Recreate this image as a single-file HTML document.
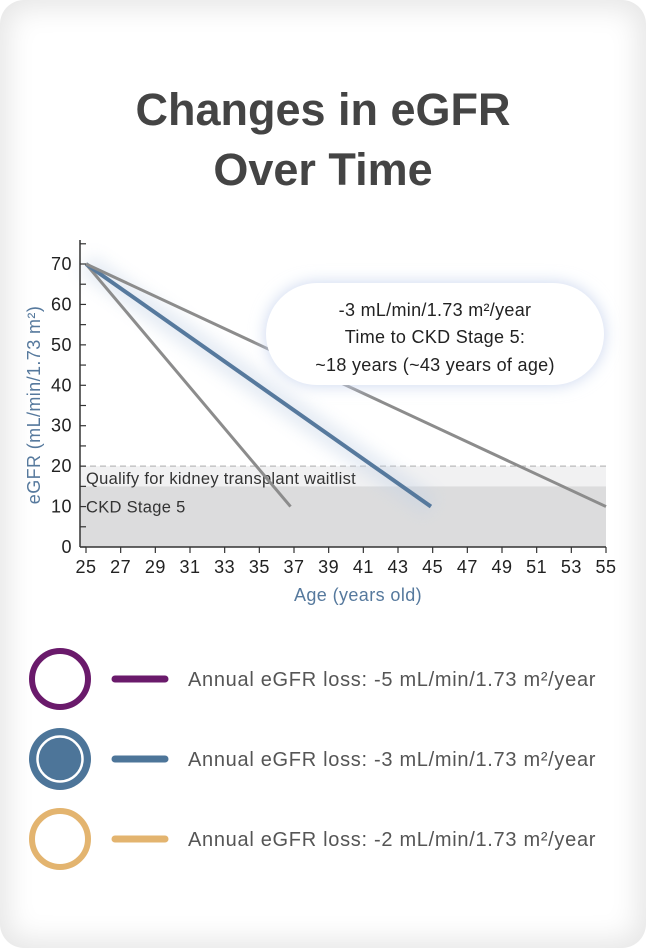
<!DOCTYPE html>
<html><head><meta charset="utf-8"><style>
html,body{margin:0;padding:0;width:646px;height:948px;overflow:hidden;background:#fff;font-family:"Liberation Sans",sans-serif}
#card{position:absolute;left:0;top:0;width:646px;height:948px;border-radius:24px;background:#fff;box-shadow:inset 0 0 28px 8px rgba(0,0,0,0.10)}
#title{position:absolute;left:0;top:80px;width:646px;text-align:center;font-size:45px;font-weight:bold;color:#444;line-height:60px}
svg{position:absolute;left:0;top:0}
</style></head><body>
<div id="card"></div>
<div id="title">Changes in eGFR<br>Over Time</div>
<svg id="chart" width="646" height="948">
<defs>
<filter id="glow" x="-30%" y="-60%" width="160%" height="220%"><feGaussianBlur stdDeviation="8"/></filter>
</defs>
<g id="plot"></g>
<g id="legend"></g>
</svg>
<script>
const xTicks=[25,27,29,31,33,35,37,39,41,43,45,47,49,51,53,55];
const yTicks=[0,10,20,30,40,50,60,70];
const seriesNames=['-5','-3','-2'];
const startAge=[25,25,25];
const startVal=[70,70,70];
const endAge=[36.8,44.9,55];
const endVal=[10,10,10];
const seriesColors=['#8c8c8c','#56799d','#8c8c8c'];
const seriesWidths=[3,4,3];
const waitlistBand=[15,20];
const stage5Band=[0,15];
const legendLabels=['Annual eGFR loss: -5 mL/min/1.73 m²/year','Annual eGFR loss: -3 mL/min/1.73 m²/year','Annual eGFR loss: -2 mL/min/1.73 m²/year'];
const legendColors=['#6a1a6b','#4d7599','#e3b46f'];

const NS='http://www.w3.org/2000/svg';
const X0=86,X1=606,Y0=547,Y1=264;
const x=v=>X0+(v-25)/(55-25)*(X1-X0);
const y=v=>Y0-(v-0)/(70-0)*(Y0-Y1);
const plot=document.getElementById('plot');
const legend=document.getElementById('legend');
function mk(tag,attrs,parent){const e=document.createElementNS(NS,tag);for(const k in attrs)e.setAttribute(k,attrs[k]);parent.appendChild(e);return e;}
const AX=80;
let b=mk('rect',{x:AX,y:y(waitlistBand[1]),width:X1-AX,height:y(waitlistBand[0])-y(waitlistBand[1]),fill:'#f1f1f2'},plot);


b=mk('rect',{x:AX,y:y(stage5Band[1]),width:X1-AX,height:y(stage5Band[0])-y(stage5Band[1]),fill:'#dcdcdd'},plot);


b=mk('line',{x1:AX,x2:X1,y1:y(20),y2:y(20),stroke:'#bbb','stroke-width':1.3,'stroke-dasharray':'6 4'},plot);


let t=mk('text',{x:86,y:y(20)+18,'font-size':16.5,fill:'#333','letter-spacing':0.3},plot);t.textContent='Qualify for kidney transplant waitlist';


t=mk('text',{x:86,y:y(10)+6,'font-size':16.5,fill:'#333','letter-spacing':0.3},plot);t.textContent='CKD Stage 5';


mk('line',{x1:x(startAge[1]),y1:y(startVal[1]),x2:x(endAge[1]),y2:y(endVal[1]),stroke:'#c5d3e6','stroke-width':22,filter:'url(#glow)',opacity:0.45},plot);
for(let i=0;i<seriesNames.length;i++){
 const l=mk('line',{x1:x(startAge[i]),y1:y(startVal[i]),x2:x(endAge[i]),y2:y(endVal[i]),stroke:seriesColors[i],'stroke-width':seriesWidths[i]},plot);
 
 
}
let a=mk('line',{x1:AX,x2:AX,y1:240,y2:Y0,stroke:'#333','stroke-width':1.5},plot);


a=mk('line',{x1:AX,x2:X1,y1:Y0,y2:Y0,stroke:'#333','stroke-width':1.5},plot);


for(let v=0;v<=75;v+=5){mk('line',{x1:AX,x2:AX+6,y1:y(v),y2:y(v),stroke:'#333','stroke-width':1.2},plot);}
yTicks.forEach(v=>{const e=mk('text',{x:AX-8,y:y(v)+6,'text-anchor':'end','font-size':18,fill:'#222','letter-spacing':0.5},plot);e.textContent=v;
 
 });
xTicks.forEach(v=>{mk('line',{x1:x(v),x2:x(v),y1:Y0,y2:Y0+6,stroke:'#333','stroke-width':1.2},plot);
 const e=mk('text',{x:x(v),y:Y0+26,'text-anchor':'middle','font-size':18,fill:'#222','letter-spacing':0.5},plot);e.textContent=v;
 
 });
t=mk('text',{x:358,y:601,'text-anchor':'middle','font-size':18,fill:'#56799d','letter-spacing':0.4},plot);t.textContent='Age (years old)';


t=mk('text',{x:0,y:0,'text-anchor':'middle','font-size':18,fill:'#56799d','letter-spacing':0.4,transform:'translate(40,405) rotate(-90)'},plot);t.textContent='eGFR (mL/min/1.73 m²)';


mk('rect',{x:266,y:283,width:338,height:102,rx:51,fill:'#c9d5ee',filter:'url(#glow)'},plot);
let c=mk('rect',{x:266,y:283,width:338,height:102,rx:51,fill:'#fff'},plot);


[['-3 mL/min/1.73 m²/year',316],['Time to CKD Stage 5:',343],['~18 years  (~43 years of age)',371]].forEach(([s,yy])=>{
 const e=mk('text',{x:435,y:yy,'text-anchor':'middle','font-size':18,fill:'#222','letter-spacing':0.3,'xml:space':'preserve'},plot);e.textContent=s;
 
 });
const ly=[679,759,839];
for(let i=0;i<3;i++){
 const g=mk('g',{},legend);
 
 
 if(i===1){mk('circle',{cx:60,cy:ly[i],r:31,fill:legendColors[i]},g);mk('circle',{cx:60,cy:ly[i],r:22.5,fill:'none',stroke:'#fff','stroke-width':2.5},g);}
 else mk('circle',{cx:60,cy:ly[i],r:28,fill:'none',stroke:legendColors[i],'stroke-width':6},g);
 mk('line',{x1:115,x2:165,y1:ly[i],y2:ly[i],stroke:legendColors[i],'stroke-width':7,'stroke-linecap':'round'},g);
 const e=mk('text',{x:188,y:ly[i]+7,'font-size':20,fill:'#555','letter-spacing':0.7},g);e.textContent=legendLabels[i];
}
</script>
</body></html>
